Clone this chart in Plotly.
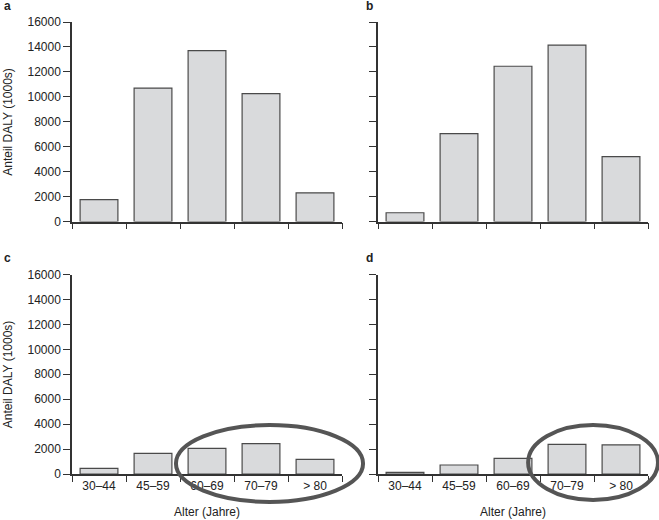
import plotly.graph_objects as go
from plotly.subplots import make_subplots

categories = ["30–44", "45–59", "60–69", "70–79", "> 80"]
values_a = [1750, 10700, 13700, 10250, 2300]
values_b = [700, 7050, 12450, 14150, 5200]
values_c = [450, 1650, 2050, 2430, 1170]
values_d = [130, 720, 1250, 2370, 2330]
panel_letters = ["a", "b", "c", "d"]
y_ticks = [0, 2000, 4000, 6000, 8000, 10000, 12000, 14000, 16000]
y_ticktext = [str(v) for v in y_ticks]
y_title = "Anteil DALY (1000s)"
x_title = "Alter (Jahre)"

W, H = 659, 520
ML, MR, MT, MB = 72, 11, 22, 46
PW, PH = W - ML - MR, H - MT - MB

fig = make_subplots(rows=2, cols=2, horizontal_spacing=(378 - 342) / PW,
                    vertical_spacing=(274 - 221) / PH)

axis_col = "#333333"
font_fam = "Liberation Sans, Arial, sans-serif"
txt_font = dict(size=12, color="#222", family=font_fam)

for i, vals in enumerate([values_a, values_b, values_c, values_d]):
    r, c = i // 2 + 1, i % 2 + 1
    fig.add_trace(go.Bar(x=categories, y=vals, width=0.7,
                         marker=dict(color="#d9dadc",
                                     line=dict(color="#4a4a4a", width=1.2)),
                         showlegend=False, hoverinfo="x+y"), row=r, col=c)
    fig.update_xaxes(row=r, col=c, type="category", tickson="boundaries",
                     ticks="outside", ticklen=6, tickcolor=axis_col, tickwidth=1.2,
                     showline=True, linecolor=axis_col, linewidth=1.5,
                     showgrid=False, zeroline=False, automargin=False,
                     showticklabels=(r == 2), tickfont=txt_font,
                     range=[-0.5, 4.5])
    fig.update_yaxes(row=r, col=c, range=[0, 16000], tickvals=y_ticks,
                     ticktext=y_ticktext,
                     ticks="outside", ticklen=7, tickcolor=axis_col, tickwidth=1.2,
                     showline=True, linecolor=axis_col, linewidth=1.5,
                     showgrid=False, zeroline=False, automargin=False,
                     showticklabels=(c == 1), tickfont=txt_font)

# axis titles as annotations anchored to subplot domains
for r in (1, 2):
    n = (r - 1) * 2 + 1
    fig.add_annotation(text=y_title, xref="paper", yref=f"y{'' if n == 1 else n} domain",
                       x=(8 - ML) / PW, y=0.5, textangle=-90, showarrow=False,
                       xanchor="center", yanchor="middle", font=txt_font)
for n in (3, 4):
    fig.add_annotation(text=x_title, xref=f"x{n} domain", yref="paper",
                       x=0.5, y=-(512 - (H - MB)) / PH, showarrow=False,
                       xanchor="center", yanchor="middle", font=txt_font)

# panel letters
letter_pos = [(2, 6), (364, 6), (2, 258), (364, 258)]
for letter, (px, py) in zip(panel_letters, letter_pos):
    fig.add_annotation(text=f"<b>{letter}</b>", xref="paper", yref="paper",
                       x=(px - ML) / PW, y=1 - (py - MT) / PH,
                       xanchor="left", yanchor="middle", showarrow=False,
                       font=txt_font)

# highlight ellipses (in subplot domain coordinates)
ell = dict(line=dict(color="#555555", width=4), fillcolor="rgba(0,0,0,0)", layer="above")
fig.add_shape(type="circle", xref="x3 domain", yref="y3 domain",
              x0=0.385, x1=1.078, y0=-0.14, y1=0.245, **ell)
fig.add_shape(type="circle", xref="x4 domain", yref="y4 domain",
              x0=0.556, x1=1.037, y0=-0.13, y1=0.245, **ell)

fig.update_layout(width=W, height=H, margin=dict(l=ML, r=MR, t=MT, b=MB, autoexpand=False),
                  plot_bgcolor="white", paper_bgcolor="white",
                  bargap=0.3, font=dict(family=font_fam, color="#222"))

fig.write_html("out.html", config={"displayModeBar": False},
               post_script="document.body.style.margin='0';document.body.style.padding='0';")
